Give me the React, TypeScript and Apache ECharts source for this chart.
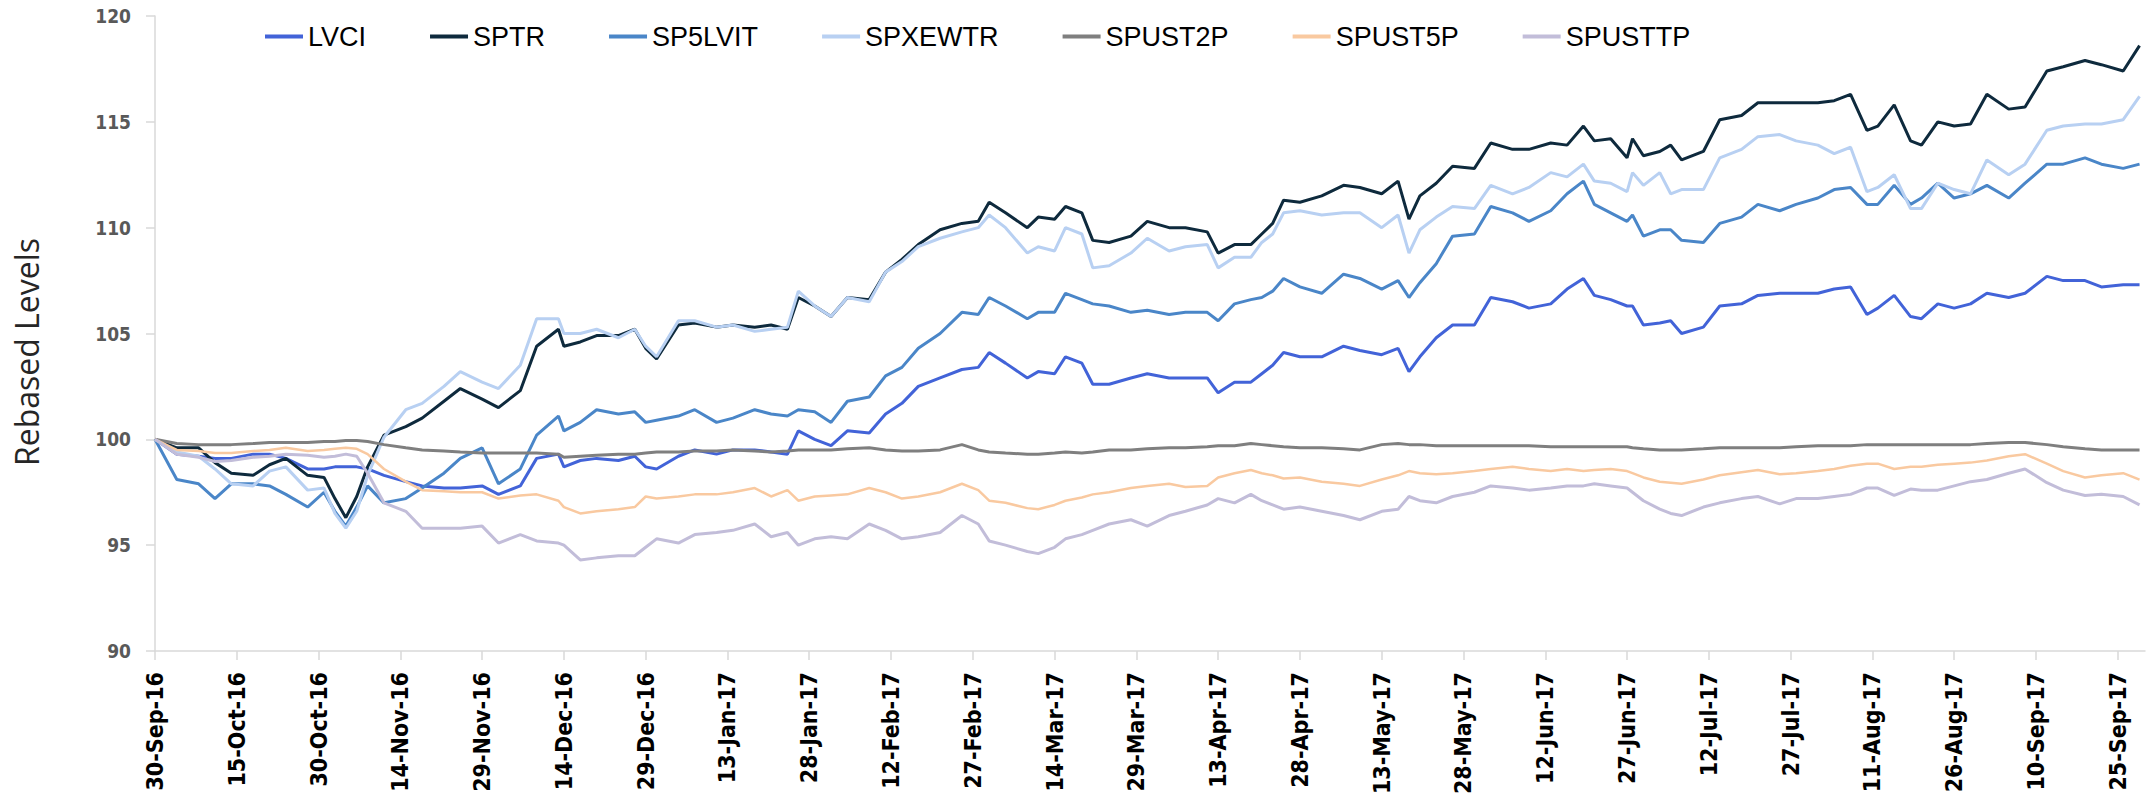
import React, { useEffect, useRef } from "react";
import * as echarts from "echarts";

// Sample points: calendar-day offsets from 30-Sep-2016
const DAYS = [
  0, 4, 8, 11, 14, 18, 21, 24, 28, 31,
  33, 35, 37, 39, 42, 46, 49, 53, 56, 60,
  63, 67, 70, 74, 75, 78, 81, 85, 88, 90,
  92, 96, 99, 103, 106, 110, 113, 116, 118, 121,
  124, 127, 131, 134, 137, 140, 144, 148, 151, 153,
  156, 160, 162, 165, 167, 170, 172, 175, 179, 182,
  186, 189, 193, 195, 198, 201, 203, 205, 207, 210,
  214, 218, 221, 225, 228, 230, 232, 235, 238, 242,
  245, 249, 252, 256, 259, 262, 264, 267, 270, 271,
  273, 276, 278, 280, 284, 287, 291, 294, 298, 301,
  305, 308, 311, 314, 316, 319, 322, 324, 327, 330,
  333, 336, 340, 343, 347, 350, 354, 357, 361, 364,
];

// Tick labels, one every 15 days starting at 30-Sep-16
const X_TICK_LABELS = [
  "30-Sep-16", "15-Oct-16", "30-Oct-16", "14-Nov-16", "29-Nov-16",
  "14-Dec-16", "29-Dec-16", "13-Jan-17", "28-Jan-17", "12-Feb-17",
  "27-Feb-17", "14-Mar-17", "29-Mar-17", "13-Apr-17", "28-Apr-17",
  "13-May-17", "28-May-17", "12-Jun-17", "27-Jun-17", "12-Jul-17",
  "27-Jul-17", "11-Aug-17", "26-Aug-17", "10-Sep-17", "25-Sep-17",
];

const SERIES_NAMES = ["LVCI", "SPTR", "SP5LVIT", "SPXEWTR", "SPUST2P", "SPUST5P", "SPUSTTP"];

const LVCI = [
  100, 99.3, 99.2, 99.1, 99.1, 99.3, 99.3, 99.1, 98.6, 98.6,
  98.7, 98.7, 98.7, 98.6, 98.3, 98.0, 97.8, 97.7, 97.7, 97.8,
  97.4, 97.8, 99.1, 99.3, 98.7, 99.0, 99.1, 99.0, 99.2, 98.7,
  98.6, 99.2, 99.5, 99.3, 99.5, 99.5, 99.4, 99.3, 100.4, 100.0,
  99.7, 100.4, 100.3, 101.2, 101.7, 102.5, 102.9, 103.3, 103.4, 104.1,
  103.6, 102.9, 103.2, 103.1, 103.9, 103.6, 102.6, 102.6, 102.9, 103.1,
  102.9, 102.9, 102.9, 102.2, 102.7, 102.7, 103.1, 103.5, 104.1, 103.9,
  103.9, 104.4, 104.2, 104.0, 104.3, 103.2, 103.9, 104.8, 105.4, 105.4,
  106.7, 106.5, 106.2, 106.4, 107.1, 107.6, 106.8, 106.6, 106.3, 106.3,
  105.4, 105.5, 105.6, 105.0, 105.3, 106.3, 106.4, 106.8, 106.9, 106.9,
  106.9, 107.1, 107.2, 105.9, 106.2, 106.8, 105.8, 105.7, 106.4, 106.2,
  106.4, 106.9, 106.7, 106.9, 107.7, 107.5, 107.5, 107.2, 107.3, 107.3,
];

const SPTR = [
  100, 99.6, 99.6, 98.9, 98.4, 98.3, 98.8, 99.1, 98.3, 98.2,
  97.2, 96.3, 97.3, 98.7, 100.2, 100.6, 101.0, 101.8, 102.4, 101.9,
  101.5, 102.3, 104.4, 105.2, 104.4, 104.6, 104.9, 104.9, 105.2, 104.3,
  103.8, 105.4, 105.5, 105.3, 105.4, 105.3, 105.4, 105.2, 106.7, 106.3,
  105.8, 106.7, 106.6, 107.9, 108.5, 109.2, 109.9, 110.2, 110.3, 111.2,
  110.7, 110.0, 110.5, 110.4, 111.0, 110.7, 109.4, 109.3, 109.6, 110.3,
  110.0, 110.0, 109.8, 108.8, 109.2, 109.2, 109.7, 110.2, 111.3, 111.2,
  111.5, 112.0, 111.9, 111.6, 112.2, 110.4, 111.5, 112.1, 112.9, 112.8,
  114.0, 113.7, 113.7, 114.0, 113.9, 114.8, 114.1, 114.2, 113.3, 114.2,
  113.4, 113.6, 113.9, 113.2, 113.6, 115.1, 115.3, 115.9, 115.9, 115.9,
  115.9, 116.0, 116.3, 114.6, 114.8, 115.8, 114.1, 113.9, 115.0, 114.8,
  114.9, 116.3, 115.6, 115.7, 117.4, 117.6, 117.9, 117.7, 117.4, 118.6,
];

const SP5LVIT = [
  100, 98.1, 97.9, 97.2, 97.9, 97.9, 97.8, 97.4, 96.8, 97.5,
  96.6, 95.9, 96.8, 97.8, 97.0, 97.2, 97.7, 98.4, 99.1, 99.6,
  97.9, 98.6, 100.2, 101.1, 100.4, 100.8, 101.4, 101.2, 101.3, 100.8,
  100.9, 101.1, 101.4, 100.8, 101.0, 101.4, 101.2, 101.1, 101.4, 101.3,
  100.8, 101.8, 102.0, 103.0, 103.4, 104.3, 105.0, 106.0, 105.9, 106.7,
  106.3, 105.7, 106.0, 106.0, 106.9, 106.6, 106.4, 106.3, 106.0, 106.1,
  105.9, 106.0, 106.0, 105.6, 106.4, 106.6, 106.7, 107.0, 107.6, 107.2,
  106.9, 107.8, 107.6, 107.1, 107.5, 106.7, 107.4, 108.3, 109.6, 109.7,
  111.0, 110.7, 110.3, 110.8, 111.6, 112.2, 111.1, 110.7, 110.3, 110.6,
  109.6, 109.9, 109.9, 109.4, 109.3, 110.2, 110.5, 111.1, 110.8, 111.1,
  111.4, 111.8, 111.9, 111.1, 111.1, 112.0, 111.1, 111.4, 112.1, 111.4,
  111.6, 112.0, 111.4, 112.1, 113.0, 113.0, 113.3, 113.0, 112.8, 113.0,
];

const SPXEWTR = [
  100, 99.4, 99.2, 98.6, 97.9, 97.8, 98.5, 98.7, 97.6, 97.7,
  96.5, 95.8, 96.6, 98.3, 100.1, 101.4, 101.7, 102.5, 103.2, 102.7,
  102.4, 103.5, 105.7, 105.7, 105.0, 105.0, 105.2, 104.8, 105.2, 104.4,
  103.9, 105.6, 105.6, 105.3, 105.4, 105.1, 105.2, 105.3, 107.0, 106.3,
  105.8, 106.7, 106.5, 107.9, 108.4, 109.1, 109.5, 109.8, 110.0, 110.6,
  110.0, 108.8, 109.1, 108.9, 110.0, 109.7, 108.1, 108.2, 108.8, 109.5,
  108.9, 109.1, 109.2, 108.1, 108.6, 108.6, 109.3, 109.7, 110.7, 110.8,
  110.6, 110.7, 110.7, 110.0, 110.6, 108.8, 109.9, 110.5, 111.0, 110.9,
  112.0, 111.6, 111.9, 112.6, 112.4, 113.0, 112.2, 112.1, 111.7, 112.6,
  112.0, 112.6, 111.6, 111.8, 111.8, 113.3, 113.7, 114.3, 114.4, 114.1,
  113.9, 113.5, 113.8, 111.7, 111.9, 112.5, 110.9, 110.9, 112.1, 111.8,
  111.6, 113.2, 112.5, 113.0, 114.6, 114.8, 114.9, 114.9, 115.1, 116.2,
];

const SPUST2P = [
  100, 99.8, 99.75, 99.75, 99.75, 99.8, 99.85, 99.85, 99.85, 99.9,
  99.9, 99.95, 99.95, 99.9, 99.75, 99.6, 99.5, 99.45, 99.4, 99.35,
  99.35, 99.35, 99.35, 99.3, 99.15, 99.2, 99.25, 99.3, 99.3, 99.35,
  99.4, 99.4, 99.45, 99.45, 99.5, 99.45, 99.4, 99.45, 99.5, 99.5,
  99.5, 99.55, 99.6, 99.5, 99.45, 99.45, 99.5, 99.75, 99.5, 99.4,
  99.35, 99.3, 99.3, 99.35, 99.4, 99.35, 99.4, 99.5, 99.5, 99.55,
  99.6, 99.6, 99.65, 99.7, 99.7, 99.8, 99.75, 99.7, 99.65, 99.6,
  99.6, 99.55, 99.5, 99.75, 99.8, 99.75, 99.75, 99.7, 99.7, 99.7,
  99.7, 99.7, 99.7, 99.65, 99.65, 99.65, 99.65, 99.65, 99.65, 99.6,
  99.55, 99.5, 99.5, 99.5, 99.55, 99.6, 99.6, 99.6, 99.6, 99.65,
  99.7, 99.7, 99.7, 99.75, 99.75, 99.75, 99.75, 99.75, 99.75, 99.75,
  99.75, 99.8, 99.85, 99.85, 99.75, 99.65, 99.55, 99.5, 99.5, 99.5,
];

const SPUST5P = [
  100, 99.5, 99.45, 99.35, 99.35, 99.45, 99.5, 99.6, 99.45, 99.5,
  99.55, 99.6, 99.55, 99.3, 98.6, 98.0, 97.6, 97.55, 97.5, 97.5,
  97.2, 97.35, 97.4, 97.1, 96.8, 96.5, 96.6, 96.7, 96.8, 97.3,
  97.2, 97.3, 97.4, 97.4, 97.5, 97.7, 97.3, 97.6, 97.1, 97.3,
  97.35, 97.4, 97.7, 97.5, 97.2, 97.3, 97.5, 97.9, 97.6, 97.1,
  97.0, 96.75, 96.7, 96.9, 97.1, 97.25, 97.4, 97.5, 97.7, 97.8,
  97.9, 97.75, 97.8, 98.2, 98.4, 98.55, 98.4, 98.3, 98.15, 98.2,
  98.0, 97.9, 97.8, 98.1, 98.3, 98.5, 98.4, 98.35, 98.4, 98.5,
  98.6, 98.7, 98.6, 98.5, 98.6, 98.5, 98.55, 98.6, 98.5, 98.4,
  98.2, 98.0, 97.95, 97.9, 98.1, 98.3, 98.45, 98.55, 98.35, 98.4,
  98.5, 98.6, 98.75, 98.85, 98.85, 98.6, 98.7, 98.7, 98.8, 98.85,
  98.9, 99.0, 99.2, 99.3, 98.85, 98.5, 98.2, 98.3, 98.4, 98.1,
];

const SPUSTTP = [
  100, 99.3, 99.15, 98.95, 99.0, 99.15, 99.2, 99.3, 99.25, 99.15,
  99.2, 99.3, 99.2, 98.4, 97.0, 96.6, 95.8, 95.8, 95.8, 95.9,
  95.1, 95.5, 95.2, 95.1, 95.0, 94.3, 94.4, 94.5, 94.5, 94.9,
  95.3, 95.1, 95.5, 95.6, 95.7, 96.0, 95.4, 95.6, 95.0, 95.3,
  95.4, 95.3, 96.0, 95.7, 95.3, 95.4, 95.6, 96.4, 96.0, 95.2,
  95.0, 94.7, 94.6, 94.9, 95.3, 95.5, 95.7, 96.0, 96.2, 95.9,
  96.4, 96.6, 96.9, 97.2, 97.0, 97.4, 97.1, 96.9, 96.7, 96.8,
  96.6, 96.4, 96.2, 96.6, 96.7, 97.3, 97.1, 97.0, 97.3, 97.5,
  97.8, 97.7, 97.6, 97.7, 97.8, 97.8, 97.9, 97.8, 97.7, 97.5,
  97.1, 96.7, 96.5, 96.4, 96.8, 97.0, 97.2, 97.3, 96.95, 97.2,
  97.2, 97.3, 97.4, 97.7, 97.7, 97.35, 97.65, 97.6, 97.6, 97.8,
  98.0, 98.1, 98.4, 98.6, 97.95, 97.6, 97.35, 97.4, 97.3, 96.9,
];

const SERIES_VALUES = [LVCI, SPTR, SP5LVIT, SPXEWTR, SPUST2P, SPUST5P, SPUSTTP];
const SERIES_COLORS = ["#4263D8", "#0E2A3D", "#4A86C8", "#B8D0F2", "#7F7F7F", "#F9C9A0", "#C2BDD9"];

const Y_MIN = 90;
const Y_MAX = 120;
const Y_STEP = 5;
const X_STEP = 15;
const X_MAX = 365;

export default function App() {
  const ref = useRef<HTMLDivElement | null>(null);

  useEffect(() => {
    document.body.style.margin = "0";
    if (!ref.current) return;
    const chart = echarts.init(ref.current, undefined, { renderer: "svg" });
    const tickValues = X_TICK_LABELS.map((_, i) => i * X_STEP);

    chart.setOption({
      animation: false,
      backgroundColor: "#ffffff",
      grid: { left: 155, right: 11, top: 16, bottom: 148, containLabel: false, outerBoundsMode: "none" },
      legend: {
        data: SERIES_NAMES,
        left: 260,
        top: 18,
        icon: "rect",
        itemWidth: 38,
        itemHeight: 4,
        itemGap: 64,
        textStyle: { fontSize: 27, fontFamily: "'Liberation Sans', Arial, sans-serif", color: "#000000" },
      },
      graphic: [
        {
          type: "text",
          x: 26,
          y: 352,
          rotation: Math.PI / 2,
          style: {
            text: "Rebased Levels",
            font: "32px 'Open Sans'",
            fill: "#262626",
            align: "center",
            verticalAlign: "middle",
          },
        },
      ],
      xAxis: {
        type: "value",
        min: 0,
        max: X_MAX,
        interval: X_STEP,
        splitLine: { show: false },
        axisLine: { show: true, lineStyle: { color: "#D9D9D9", width: 1.5 } },
        axisTick: { show: true, length: 9, lineStyle: { color: "#D9D9D9", width: 1.5 }, customValues: tickValues },
        axisLabel: {
          rotate: 90,
          margin: 21,
          fontSize: 23,
          fontWeight: "bold",
          color: "#000000",
          fontFamily: "'DejaVu Sans Condensed', 'DejaVu Sans', sans-serif",
          customValues: tickValues,
          formatter: (v: number) => {
            const i = v / X_STEP;
            return Number.isInteger(i) && X_TICK_LABELS[i] ? X_TICK_LABELS[i] : "";
          },
        },
      },
      yAxis: {
        type: "value",
        min: Y_MIN,
        max: Y_MAX,
        interval: Y_STEP,
        splitLine: { show: false },
        axisLine: { show: true, lineStyle: { color: "#D9D9D9", width: 1.5 } },
        axisTick: { show: true, length: 9, lineStyle: { color: "#D9D9D9", width: 1.5 } },
        axisLabel: {
          margin: 24,
          fontSize: 19,
          fontWeight: "bold",
          color: "#595959",
          fontFamily: "'DejaVu Sans Condensed', 'DejaVu Sans', sans-serif",
        },
      },
      series: SERIES_NAMES.map((name, si) => ({
        name,
        type: "line",
        symbol: "none",
        showSymbol: false,
        lineStyle: { width: si === 5 ? 2.5 : 3, color: SERIES_COLORS[si] },
        itemStyle: { color: SERIES_COLORS[si] },
        data: DAYS.map((d, i) => [d, SERIES_VALUES[si][i]]),
      })),
    });

    return () => chart.dispose();
  }, []);

  return <div ref={ref} style={{ width: 2156, height: 799 }} />;
}
